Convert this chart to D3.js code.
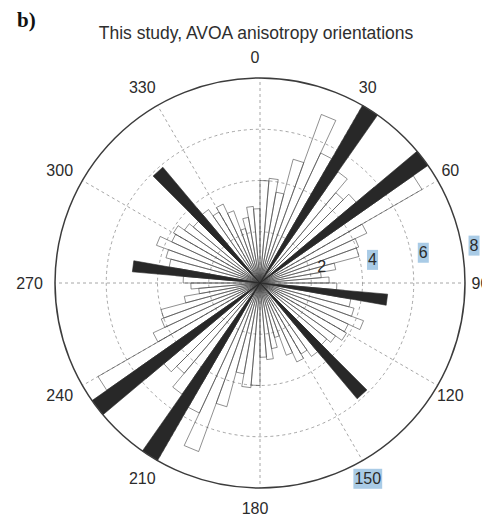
<!DOCTYPE html>
<html>
<head>
<meta charset="utf-8">
<script src="https://cdn.jsdelivr.net/npm/d3@7"></script>
<style>
  html, body { margin: 0; padding: 0; background: #fff; }
  svg { display: block; font-family: "Liberation Sans", Arial, sans-serif; }
  .grid { fill: none; stroke: #8f8f8f; stroke-width: 0.8; stroke-dasharray: 3,3; }
  .tick { font-size: 16px; fill: #2b2b2b; }
</style>
</head>
<body>
<div id="chart"></div>
<script>
// rose bins, 5 deg wide, left edge of each bin (deg clockwise from north)
const binEdges = [
  0, 5, 10, 15, 20, 25, 30, 35, 40, 45, 50, 55,
  60, 65, 70, 75, 80, 85, 90, 95, 100, 105, 110, 115,
  120, 125, 130, 135, 140, 145, 150, 155, 160, 165, 170, 175,
  180, 185, 190, 195, 200, 205, 210, 215, 220, 225, 230, 235,
  240, 245, 250, 255, 260, 265, 270, 275, 280, 285, 290, 295,
  300, 305, 310, 315, 320, 325, 330, 335, 340, 345, 350, 355
];
// this study (outline rose)
const studyCounts = [
  4.0, 4.1, 3.6, 5.0, 7.0, 5.6, 4.5, 5.3, 4.6, 4.9, 5.8, 7.3,
  4.6, 4.1, 4.0, 3.0, 2.4, 2.7, 3.0, 3.3, 3.6, 3.8, 4.3, 3.8,
  3.9, 3.6, 3.4, 3.8, 3.5, 3.2, 3.4, 3.0, 2.2, 2.6, 3.0, 2.9,
  4.0, 4.1, 3.6, 5.0, 7.0, 5.6, 4.5, 5.3, 4.6, 4.9, 5.8, 7.3,
  4.6, 4.1, 4.0, 3.0, 2.4, 2.7, 3.0, 3.3, 3.6, 3.8, 4.3, 3.8,
  3.9, 3.6, 3.4, 3.8, 3.5, 3.2, 3.4, 3.0, 2.2, 2.6, 3.0, 2.9
];
// filled wedges
const otherBins = [30, 50, 95, 135, 210, 230, 275, 315];
const otherCounts = [8, 8, 5, 5.9, 8, 8, 5, 5.9];

const angleTicks = [0, 30, 60, 90, 120, 150, 180, 210, 240, 270, 300, 330];
const radialTicks = [2, 4, 6, 8];
const highlighted = ['4', '6', '8', '150'];
const titleText = 'This study, AVOA anisotropy orientations';
const panelLabel = 'b)';

const width = 482, height = 517;
const cx = 260, cy = 283, R = 205;
const binWidth = 5;

const svg = d3.select('#chart').append('svg')
  .attr('width', width)
  .attr('height', height);

const rScale = d3.scaleLinear().domain([0, 8]).range([0, R]);
const aScale = d3.scaleLinear().domain([0, 360]).range([0, 2 * Math.PI]);

const polar = (deg, r) => [cx + r * Math.sin(aScale(deg)), cy - r * Math.cos(aScale(deg))];

const hl = svg.append('g').attr('class', 'highlights');
const plot = svg.append('g').attr('transform', `translate(${cx},${cy})`);

// grid
plot.selectAll('.ring')
  .data(radialTicks.slice(0, -1))
  .enter().append('circle')
  .attr('class', 'grid ring')
  .attr('r', d => rScale(d));

plot.selectAll('.spoke')
  .data(angleTicks)
  .enter().append('line')
  .attr('class', 'grid spoke')
  .attr('x1', 0).attr('y1', 0)
  .attr('x2', d => R * Math.sin(aScale(d)))
  .attr('y2', d => -R * Math.cos(aScale(d)));

// rose triangles like matlab: centre -> edge1 -> edge2 -> centre
const wedge = d3.lineRadial()
  .angle(d => aScale(d[0]))
  .radius(d => rScale(d[1]))
  .curve(d3.curveLinearClosed);

const binPts = (a, v) => [[a, 0], [a, v], [a + binWidth, v], [a + binWidth, 0]];

plot.selectAll('.study')
  .data(binEdges.map((a, i) => binPts(a, studyCounts[i])))
  .enter().append('path')
  .attr('class', 'study')
  .attr('d', wedge)
  .attr('fill', 'none')
  .attr('stroke', '#454545')
  .attr('stroke-width', 0.6);

plot.selectAll('.other')
  .data(otherBins.map((a, i) => binPts(a, otherCounts[i])))
  .enter().append('path')
  .attr('class', 'other')
  .attr('d', wedge)
  .attr('fill', '#282828')
  .attr('stroke', '#282828')
  .attr('stroke-width', 0.6);

// outer circle
plot.append('circle')
  .attr('r', rScale(8))
  .attr('fill', 'none')
  .attr('stroke', '#3c3c3c')
  .attr('stroke-width', 1.5);

// angle labels
const angLabels = svg.append('g').selectAll('text')
  .data(angleTicks)
  .enter().append('text')
  .attr('class', 'tick')
  .attr('x', d => polar(d, rScale(8) * 1.1)[0] - 5)
  .attr('y', d => polar(d, rScale(8) * 1.1)[1] + 5.5)
  .attr('text-anchor', 'middle')
  .text(d => d);

// radial labels at 82 deg
const radLabels = svg.append('g').selectAll('text')
  .data(radialTicks)
  .enter().append('text')
  .attr('class', 'tick')
  .attr('x', d => polar(82, rScale(d + 0.1))[0] + 4)
  .attr('y', d => polar(82, rScale(d + 0.1))[1] - 3.5)
  .text(d => d);

// light blue marks behind some labels
[angLabels, radLabels].forEach(sel => {
  sel.each(function(d) {
    if (highlighted.indexOf(String(d)) < 0) return;
    const b = this.getBBox();
    hl.append('rect')
      .attr('x', b.x - 1)
      .attr('y', b.y - 1)
      .attr('width', b.width + 2)
      .attr('height', b.height + 3)
      .attr('fill', '#a9cbe6');
  });
});

svg.append('text')
  .attr('x', 256)
  .attr('y', 39)
  .attr('text-anchor', 'middle')
  .style('font-size', '17.5px')
  .attr('fill', '#2e2e2e')
  .text(titleText);

svg.append('text')
  .attr('x', 17)
  .attr('y', 27)
  .style('font-family', '"Liberation Serif", "Times New Roman", serif')
  .style('font-weight', 'bold')
  .style('font-size', '21px')
  .attr('fill', '#111')
  .text(panelLabel);
</script>
</body>
</html>
